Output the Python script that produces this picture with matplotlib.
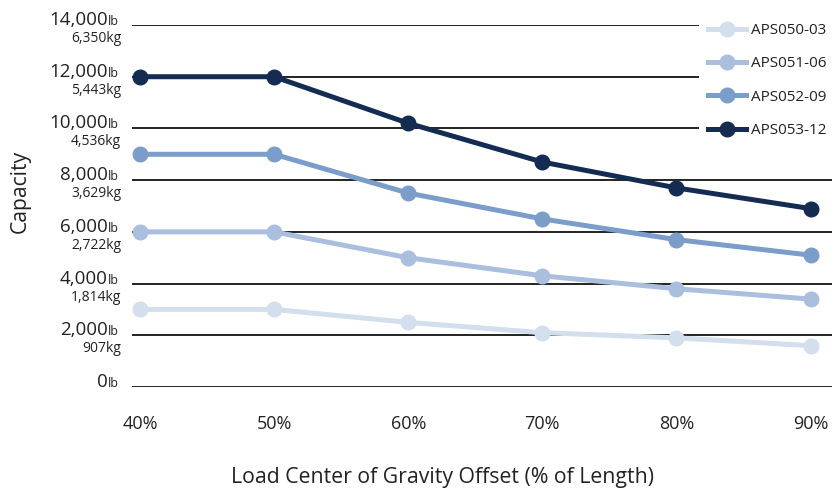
import matplotlib
matplotlib.use("Agg")
import matplotlib.pyplot as plt

plt.rcParams['font.family'] = ['Open Sans', 'DejaVu Sans']

# data
offsets = [40, 50, 60, 70, 80, 90]
x_labels = ['40%', '50%', '60%', '70%', '80%', '90%']
aps050_03 = [3000, 3000, 2500, 2100, 1900, 1600]
aps051_06 = [6000, 6000, 5000, 4300, 3800, 3400]
aps052_09 = [9000, 9000, 7500, 6500, 5700, 5100]
aps053_12 = [12000, 12000, 10200, 8700, 7700, 6900]
series_names = ['APS050-03', 'APS051-06', 'APS052-09', 'APS053-12']
y_ticks = [0, 2000, 4000, 6000, 8000, 10000, 12000, 14000]
lb_labels = ['0', '2,000', '4,000', '6,000', '8,000', '10,000', '12,000', '14,000']
kg_labels = ['', '907kg', '1,814kg', '2,722kg', '3,629kg', '4,536kg', '5,443kg', '6,350kg']

colors = ['#d3dfed', '#a9bfdd', '#7b9dc9', '#142c52']

fig = plt.figure(figsize=(8.36, 4.91), dpi=100)
ax = fig.add_axes([132 / 836, 1 - 387 / 491, 700 / 836, 362 / 491])

# grid lines
for v in y_ticks:
    ax.axhline(v, color='#222222', lw=1.4, zorder=1)

for vals, name, c in zip([aps050_03, aps051_06, aps052_09, aps053_12], series_names, colors):
    ax.plot(offsets, vals, color=c, lw=3.6, marker='o', markersize=10.5,
            label=name, zorder=3, clip_on=False)

ax.set_xlim(39.4, 91.6)
ax.set_ylim(0, 14000)
ax.set_xticks(offsets)
ax.set_xticklabels(x_labels, fontsize=13, color='#222222')
ax.set_yticks([])
ax.tick_params(axis='x', length=0, pad=20)
for s in ax.spines.values():
    s.set_visible(False)

# y tick labels: number + small "lb", kg below
for v, lb, kg in zip(y_ticks, lb_labels, kg_labels):
    ax.annotate(lb, xy=(108 / 836, v), xycoords=('figure fraction', 'data'),
                ha='right', va='baseline', fontsize=13.5, color='#222222')
    ax.annotate('lb', xy=(108 / 836, v), xycoords=('figure fraction', 'data'),
                ha='left', va='baseline', fontsize=9, color='#222222')
    if kg:
        ax.annotate(kg, xy=(121 / 836, v), xycoords=('figure fraction', 'data'),
                    xytext=(0, -17), textcoords='offset pixels',
                    ha='right', va='baseline', fontsize=10, color='#222222')

fig.text(20 / 836, 1 - 191 / 491, 'Capacity', rotation=90, ha='center', va='center',
         fontsize=15.2, color='#222222')
fig.text(442 / 836, 1 - 477 / 491, 'Load Center of Gravity Offset (% of Length)',
         ha='center', va='center', fontsize=15.3, color='#222222')

leg = ax.legend(loc='upper right', bbox_to_anchor=(1.0, 1 - 14 / 491), bbox_transform=fig.transFigure,
                frameon=True, facecolor='white', edgecolor='none', framealpha=1,
                fontsize=11, labelspacing=1.2, handlelength=2.5, handletextpad=0.35,
                borderpad=0.6, borderaxespad=0.0)
for t in leg.get_texts():
    t.set_color('#222222')
leg.set_zorder(5)

fig.savefig('out.png', dpi=100)
